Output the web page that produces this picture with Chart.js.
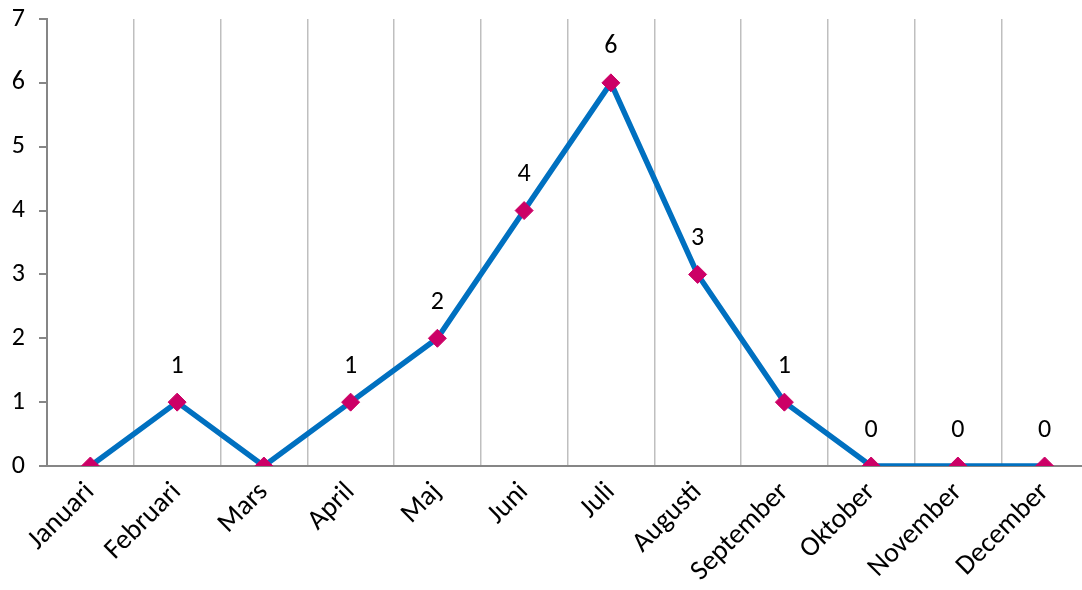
<!DOCTYPE html>
<html lang="sv">
<head>
  <meta charset="UTF-8" />
  <title>Per månad</title>
  <script src="https://cdn.jsdelivr.net/npm/chart.js"></script>
  <style>
    body {
      margin: 0;
      background: #ffffff;
      overflow: hidden;
    }
    #wrap {
      width: 1098px;
      height: 590px;
    }
  </style>
</head>
<body>
  <div id="wrap">
    <canvas id="chart" width="1098" height="590"></canvas>
  </div>

  <script>
    // Data
    const months = ['Januari', 'Februari', 'Mars', 'April', 'Maj', 'Juni', 'Juli',
                    'Augusti', 'September', 'Oktober', 'November', 'December'];
    const values = [0, 1, 0, 1, 2, 4, 6, 3, 1, 0, 0, 0];
    // Januari och Mars saknar etikett i originalet
    const valueLabels = ['', '1', '', '1', '2', '4', '6', '3', '1', '0', '0', '0'];
    const yTicks = [0, 1, 2, 3, 4, 5, 6, 7];

    const FONT = 'Carlito, Lato, "Open Sans", sans-serif';

    // Enkla etiketter ovanför punkterna
    const pointLabels = {
      id: 'pointLabels',
      afterDatasetsDraw(chart) {
        const ctx = chart.ctx;
        const meta = chart.getDatasetMeta(0);
        ctx.save();
        ctx.font = '26px ' + FONT;
        ctx.fillStyle = '#000000';
        ctx.textAlign = 'center';
        ctx.textBaseline = 'middle';
        meta.data.forEach((pt, i) => {
          if (valueLabels[i] !== '') ctx.fillText(valueLabels[i], pt.x, pt.y - 36);
        });
        ctx.restore();
      }
    };

    new Chart(document.getElementById('chart').getContext('2d'), {
      type: 'line',
      data: {
        labels: months,
        datasets: [{
          data: values,
          borderColor: '#0070c0',
          borderWidth: 5.5,
          tension: 0,
          pointStyle: 'rectRot',
          pointRadius: 9,
          pointHoverRadius: 9,
          pointBackgroundColor: '#cc0066',
          pointBorderColor: '#cc0066',
          pointBorderWidth: 1
        }]
      },
      options: {
        responsive: false,
        animation: false,
        layout: { padding: { top: 19, right: 0, left: 0, bottom: 0 } },
        plugins: {
          legend: { display: false },
          tooltip: { enabled: false }
        },
        scales: {
          x: {
            offset: true,
            grid: {
              offset: true,
              color: '#bfbfbf',
              lineWidth: 1.5,
              drawTicks: false
            },
            border: { color: '#868686', width: 2 },
            ticks: {
              color: '#000000',
              font: { family: FONT, size: 28 },
              minRotation: 45,
              maxRotation: 45,
              padding: 10
            },
            afterFit(scale) { scale.height = 124; }
          },
          y: {
            min: 0,
            max: 7,
            afterBuildTicks(scale) { scale.ticks = yTicks.map(v => ({ value: v })); },
            grid: {
              drawOnChartArea: false,
              color: '#868686',
              lineWidth: 2,
              tickLength: 8
            },
            border: { color: '#868686', width: 2 },
            ticks: {
              color: '#000000',
              font: { family: FONT, size: 26 },
              padding: 14
            },
            afterFit(scale) {
              scale.width = 47;
              scale.paddingTop = 0;
              scale.paddingBottom = 0;
            }
          }
        }
      },
      plugins: [pointLabels]
    });
  </script>
</body>
</html>
